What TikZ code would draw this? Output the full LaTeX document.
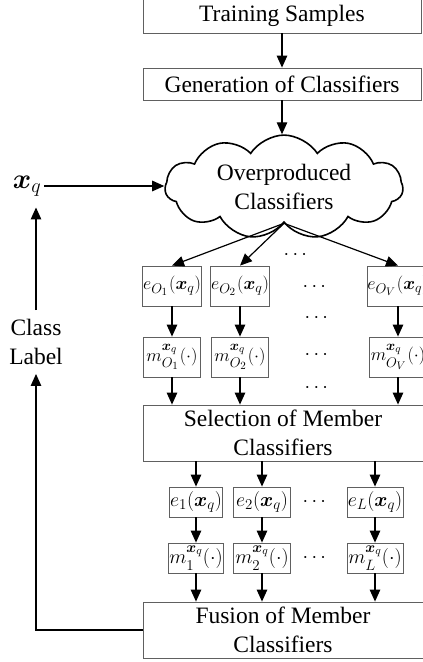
\RequirePackage{fix-cm}
\documentclass[tikz,border=0pt]{standalone}
\usepackage{amsmath}
\usepackage{fontspec}
\setmainfont{Liberation Serif}
\DeclareMathSizes{18}{18}{14}{11}
\DeclareMathSizes{20}{20}{15}{11.5}
\DeclareMathSizes{28}{28}{20}{15}
\usetikzlibrary{shapes.symbols,arrows.meta}
\begin{document}
\begin{tikzpicture}[x=1pt,y=1pt,
  box/.style={draw=gray!75!black, line width=0.8pt, inner sep=0.5pt, align=center},
  big/.style={font=\fontsize{23.5}{29}\selectfont},
  mone/.style={font=\fontsize{18}{20}\selectfont},
  mtwo/.style={font=\fontsize{20}{22}\selectfont},
  dotsn/.style={font=\fontsize{20}{22}\selectfont, inner sep=0pt},
  arr/.style={line width=1.2pt, -{Triangle[length=12pt,width=10.5pt]}},
  cloudn/.style={cloud, cloud puffs=11, cloud puff arc=115, aspect=2.45, draw, line width=1.6pt,
     inner sep=0pt, minimum width=238pt, minimum height=97pt, align=center},
]
\useasboundingbox (0,0) rectangle (423,662);
% main column
\node[box, big, minimum width=278pt, minimum height=34pt] (train) at (282,646) {Training Samples};
\node[box, big, minimum width=278pt, minimum height=32pt] (gen) at (282,578) {Generation of Classifiers};
\node[cloudn, big] (cl) at (284,475) {Overproduced\\Classifiers};
\node[font=\fontsize{28}{30}\selectfont, inner xsep=3pt, inner ysep=11pt] (xq) at (27,476) {$\boldsymbol{x}_q$};
% first rows
\node[box, mone, minimum width=57pt, minimum height=40pt] (eO1) at (172,376) {$e_{O_1}\mkern1mu(\boldsymbol{x}_q)$};
\node[box, mone, minimum width=57pt, minimum height=40pt] (eO2) at (240,376) {$e_{O_2}\mkern1mu(\boldsymbol{x}_q)$};
\node[box, mone, minimum width=57pt, minimum height=40pt] (eOV) at (398,376) {$e_{O_V}\mkern1mu(\boldsymbol{x}_q)$};
\node[box, mone, minimum width=57pt, minimum height=40pt] (mO1) at (172,305) {$m_{O_1}^{\boldsymbol{x}_q}\mkern1mu(\cdot)$};
\node[box, mone, minimum width=57pt, minimum height=40pt] (mO2) at (240,305) {$m_{O_2}^{\boldsymbol{x}_q}\mkern1mu(\cdot)$};
\node[box, mone, minimum width=57pt, minimum height=40pt] (mOV) at (398,305) {$m_{O_V}^{\boldsymbol{x}_q}\mkern1mu(\cdot)$};
\node[dotsn] (d1) at (297,407) {$\cdots$};
\node[dotsn] (d2) at (316,375) {$\cdots$};
\node[dotsn] (d3) at (318,344) {$\cdots$};
\node[dotsn] (d4) at (318,307) {$\cdots$};
\node[dotsn] (d5) at (318,274) {$\cdots$};
\node[box, big, minimum width=280pt, minimum height=56pt] (sel) at (283,229) {Selection of Member\\Classifiers};
% second rows
\node[box, mtwo, minimum width=53pt, minimum height=30pt] (e1) at (196,160) {$e_1(\boldsymbol{x}_q)$};
\node[box, mtwo, minimum width=57pt, minimum height=30pt] (e2) at (262,160) {$e_2(\boldsymbol{x}_q)$};
\node[box, mtwo, minimum width=56pt, minimum height=30pt] (eL) at (375,160) {$e_L(\boldsymbol{x}_q)$};
\node[box, mtwo, minimum width=53pt, minimum height=30pt] (m1) at (196,104) {$m_1^{\boldsymbol{x}_q}(\cdot)$};
\node[box, mtwo, minimum width=57pt, minimum height=30pt] (m2) at (262,104) {$m_2^{\boldsymbol{x}_q}(\cdot)$};
\node[box, mtwo, minimum width=56pt, minimum height=30pt] (mL) at (375,104) {$m_L^{\boldsymbol{x}_q}(\cdot)$};
\node[dotsn] (d6) at (316,160) {$\cdots$};
\node[dotsn] (d7) at (316,104) {$\cdots$};
\node[box, big, minimum width=280pt, minimum height=56pt] (fus) at (283,32) {Fusion of Member\\Classifiers};
\node[big, align=center, inner xsep=2pt, inner ysep=9pt] (cls) at (36,320) {Class\\Label};
% connectors
\draw[arr] (train) -- (gen);
\draw[arr] (gen.south) -- (gen.south |- cl.north);
\draw[arr] (xq.east) -- (cl.west |- xq.east);
\draw[arr] (cl.south) -- (eO1.north);
\draw[arr] (cl.south) -- (eO2.north);
\draw[arr] (cl.south) -- (eOV.north);
\foreach \a/\b in {eO1/mO1, eO2/mO2, eOV/mOV, e1/m1, e2/m2, eL/mL}{
  \draw[arr] (\a) -- (\b);
}
\foreach \a in {mO1, mO2, mOV}{
  \draw[arr] (\a.south) -- (\a.south |- sel.north);
}
\foreach \a in {e1, e2, eL}{
  \draw[arr] (sel.south -| \a.north) -- (\a.north);
}
\foreach \a in {m1, m2, mL}{
  \draw[arr] (\a.south) -- (\a.south |- fus.north);
}
\draw[arr] (fus.west) -| (cls.south);
\draw[arr] (cls.north) -- (cls.north |- xq.south);
\end{tikzpicture}
\end{document}
